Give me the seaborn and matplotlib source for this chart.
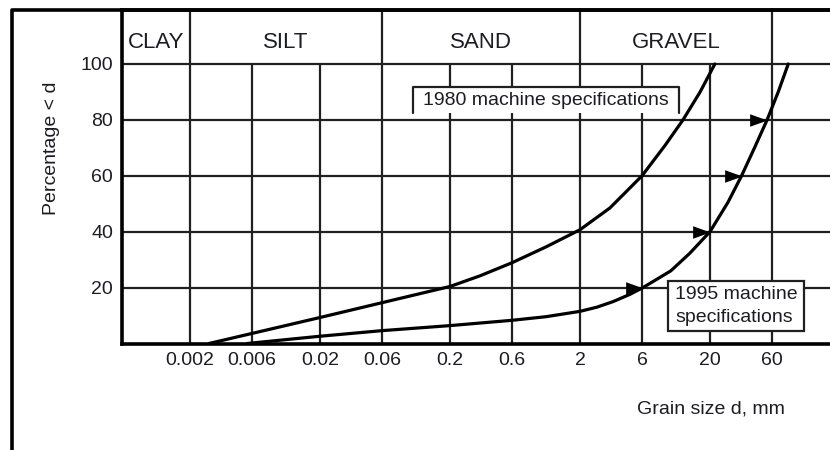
import matplotlib
matplotlib.use("Agg")
import matplotlib.pyplot as plt
from matplotlib.lines import Line2D
from matplotlib.patches import Rectangle
from matplotlib.path import Path
import pandas as pd
import seaborn as sns

# soil classes in the header band and their grain size limits (mm)
class_names = ["CLAY", "SILT", "SAND", "GRAVEL"]
class_bounds = [0.0006, 0.002, 0.06, 2, 60]

# axis ticks
size_ticks = [0.002, 0.006, 0.02, 0.06, 0.2, 0.6, 2, 6, 20, 60]
size_tick_labels = ["0.002", "0.006", "0.02", "0.06", "0.2", "0.6", "2", "6", "20", "60"]
pct_ticks = [20, 40, 60, 80, 100]

# grading limit, 1980 machine specifications
spec1980_d = [0.0028, 0.006, 0.02, 0.06, 0.2, 0.34, 0.6, 1.1, 2, 3.4, 6, 9, 12.4, 16.8, 21.8]
spec1980_p = [0, 3.6, 9.3, 14.6, 20.4, 24.2, 28.9, 34.6, 40.7, 48.5, 60, 70.8, 80, 90, 100]

# grading limit, 1995 machine specifications
spec1995_d = [0.0055, 0.02, 0.06, 0.2, 0.6, 1.1, 2, 2.7, 3.6, 4.85, 6.1, 10, 14, 20, 27.5, 35, 44, 55, 67, 80]
spec1995_p = [0, 2.6, 4.6, 6.4, 8.3, 9.6, 11.5, 13.0, 15.0, 17.6, 20, 26, 32.3, 40, 50.5, 60, 70, 80, 90, 100]

# arrowheads drawn on the 1995 curve
arrow_d = [6.1, 20, 35, 55]
arrow_p = [20, 40, 60, 80]

sns.set_style("white")
plt.rcParams["font.family"] = ["Liberation Sans", "DejaVu Sans"]
ink = "#1c1c24"

W, H = 830, 450
fig = plt.figure(figsize=(W / 100, H / 100), dpi=100)
fig.patch.set_facecolor("white")

# axes: 0 % at y=343.5 px, 100 % at y=64 px, top of header band at y=10 px
px_per_pct = (343.5 - 64) / 100
ax = fig.add_axes([122 / W, 1 - 343.5 / H, 1 - 122 / W, (343.5 - 10) / H])
ytop = (343.5 - 10) / px_per_pct
ax.set_xscale("log")
xmin = 0.0006
xmax = xmin * 10 ** ((W - 122) / 130)
ax.set_xlim(xmin, xmax)
ax.set_ylim(0, ytop)

grid_kw = dict(color="#202020", lw=1.6, zorder=1)
ax.vlines(size_ticks, 0, 100, **grid_kw)
ax.hlines(pct_ticks, xmin, xmax, **grid_kw)
ax.vlines(class_bounds[1:], 100, ytop, **grid_kw)

# class names centred in each band on the log scale
for i, name in enumerate(class_names):
    xc = (class_bounds[i] * class_bounds[i + 1]) ** 0.5
    ax.text(xc, 107.7, name, ha="center", va="center", fontsize=16, color=ink)

curves = pd.concat([
    pd.DataFrame({"d": spec1980_d, "p": spec1980_p, "spec": "1980"}),
    pd.DataFrame({"d": spec1995_d, "p": spec1995_p, "spec": "1995"}),
])
sns.lineplot(data=curves, x="d", y="p", units="spec", estimator=None, sort=False,
             color="black", lw=2.3, ax=ax, zorder=3, legend=False)

# right-pointing arrowheads with the tip on the curve
tri = Path([(0, 0), (-1, 0.36), (-1, -0.36), (0, 0)],
           [Path.MOVETO, Path.LINETO, Path.LINETO, Path.CLOSEPOLY])
ax.plot(arrow_d, arrow_p, ls="none", marker=tri, markersize=25,
        color="black", markeredgewidth=0, zorder=4)

# label box for the 1980 curve (open at the bottom)
x0, x1 = 0.1038, 11.5
yb, yt = 82.4, 91.8
ax.add_patch(Rectangle((x0, yb), x1 - x0, yt - yb, facecolor="white",
                       edgecolor="none", zorder=2))
ax.plot([x0, x0, x1, x1], [yb, yt, yt, yb], color="#202020", lw=1.6, zorder=2.5)
ax.text((x0 * x1) ** 0.5, (yb + yt) / 2 - 0.3, "1980 machine specifications",
        ha="center", va="center", fontsize=14, color=ink, zorder=5)

# label box for the 1995 curve
bx0, bx1 = 9.51, 105.7
by0, by1 = 4.3, 22.2
ax.add_patch(Rectangle((bx0, by0), bx1 - bx0, by1 - by0, facecolor="white",
                       edgecolor="#202020", lw=1.6, zorder=2))
ax.text(10.8, 17.6, "1995 machine", ha="left", va="center", fontsize=14,
        color=ink, zorder=5)
ax.text(10.8, 9.4, "specifications", ha="left", va="center", fontsize=14,
        color=ink, zorder=5)

ax.set_xticks(size_ticks)
ax.set_xticklabels(size_tick_labels)
ax.minorticks_off()
ax.set_yticks(pct_ticks)
ax.set_yticklabels([str(v) for v in pct_ticks])
ax.tick_params(axis="x", length=0, pad=6, labelsize=14, labelcolor=ink)
ax.tick_params(axis="y", length=0, pad=6.5, labelsize=14, labelcolor=ink)
ax.set_xlabel("")
ax.set_ylabel("")

for side in ("left", "bottom", "top"):
    ax.spines[side].set_visible(True)
    ax.spines[side].set_linewidth(2.6)
    ax.spines[side].set_color("black")
ax.spines["right"].set_visible(False)

fig.text(51 / W, 1 - 148 / H, "Percentage < d", rotation=90, ha="center",
         va="center", fontsize=14, color=ink)
fig.text(711 / W, 1 - 409 / H, "Grain size d, mm", ha="center", va="center",
         fontsize=14, color=ink)

# outer frame along the left and top edges
fig.add_artist(Line2D([12 / W, 12 / W, 1], [0, 1 - 9.5 / H, 1 - 9.5 / H],
                      transform=fig.transFigure, color="black", lw=2.6))

fig.savefig("out.png", dpi=100, facecolor="white")
